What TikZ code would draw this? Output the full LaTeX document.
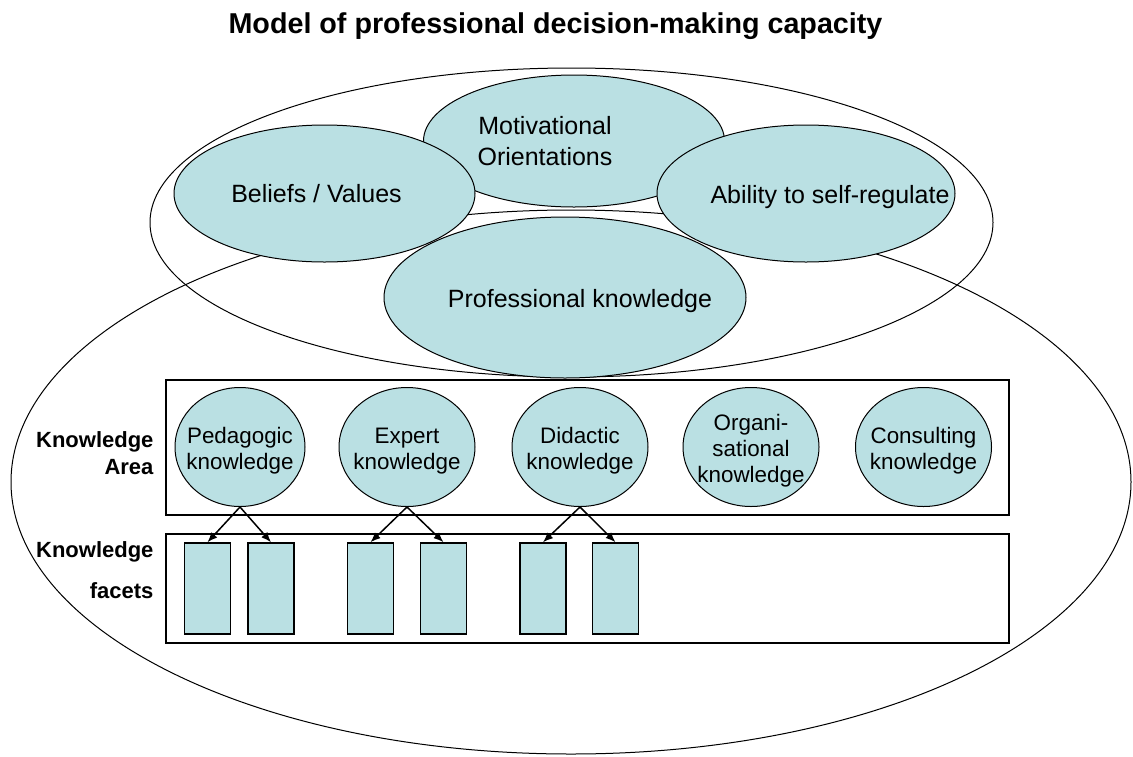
\documentclass[tikz,border=0pt]{standalone}
\usepackage{fontspec}
\setmainfont{Liberation Sans}
\usetikzlibrary{arrows.meta,shapes.geometric}
\definecolor{bubblefill}{RGB}{186,224,227}

\begin{document}
\begin{tikzpicture}[x=1pt, y=-1pt, >={Latex[length=10pt,width=8pt]},
  ring/.style={draw=black, line width=1pt, ellipse, inner sep=0pt},
  bubble/.style={ring, fill=bubblefill},
  frame/.style={draw=black, line width=1.5pt, rectangle, inner sep=0pt},
  facet/.style={frame, fill=bubblefill, minimum width=46pt, minimum height=91pt},
  bigtext/.style={font=\fontsize{25}{31}\selectfont, align=center},
  smalltext/.style={font=\fontsize{22.4}{26}\selectfont, align=center, yshift=-4pt},
  side/.style={font=\bfseries\fontsize{22}{27}\selectfont, align=right, anchor=east}]
\useasboundingbox (0,0) rectangle (1133,756);
\node[font=\bfseries\fontsize{28.7}{34}\selectfont, anchor=base] (title) at (555.5,33) {Model of professional decision-making capacity};
% the two large rings
\node[ring, minimum width=1120pt, minimum height=544pt] (lower) at (571,482) {};
\node[ring, minimum width=843pt, minimum height=309pt] (upper) at (571.5,222.5) {};
\node[bubble, minimum width=301pt, minimum height=132pt, label={[bigtext, xshift=-29pt]center:Motivational\\Orientations}] (motiv) at (574,141) {};
\node[bubble, minimum width=301pt, minimum height=137pt, label={[bigtext, xshift=-8pt]center:Beliefs / Values}] (beliefs) at (324.5,193.5) {};
\node[bubble, minimum width=298pt, minimum height=137pt, label={[bigtext, xshift=24pt, yshift=-4pt]center:Ability to self-regulate}] (ability) at (806,193.5) {};
\node[bubble, minimum width=362pt, minimum height=161pt, label={[bigtext, xshift=15pt, yshift=-4pt]center:Professional knowledge}] (prof) at (565,297.5) {};
% knowledge areas
\node[frame, minimum width=843pt, minimum height=135pt] (areabox) at (587.5,447.5) {};
\node[frame, minimum width=843pt, minimum height=109pt] (facetbox) at (587.5,588.5) {};
\node[side] (arealbl) at (157,453.5) {Knowledge\\Area};
\node[side] (facetlbl) at (157,570) {Knowledge\\[14pt]facets};
\node[bubble, minimum width=130pt, minimum height=119pt, label={[smalltext]center:Pedagogic\\knowledge}] (ped) at (240,447) {};
\node[bubble, minimum width=136pt, minimum height=119pt, label={[smalltext]center:Expert\\knowledge}] (expert) at (407,447) {};
\node[bubble, minimum width=136pt, minimum height=119pt, label={[smalltext]center:Didactic\\knowledge}] (didactic) at (580,447) {};
\node[bubble, minimum width=136pt, minimum height=119pt, label={[smalltext]center:Organi-\\sational\\knowledge}] (organ) at (751,447) {};
\node[bubble, minimum width=136pt, minimum height=119pt, label={[smalltext]center:Consulting\\knowledge}] (consult) at (923.5,447) {};
% facets
\node[facet] (f1) at (207.5,588.5) {};
\node[facet] (f2) at (271,588.5) {};
\node[facet] (f3) at (370.5,588.5) {};
\node[facet] (f4) at (443.5,588.5) {};
\node[facet] (f5) at (543,588.5) {};
\node[facet] (f6) at (615.5,588.5) {};
\draw [->, line width=1.5pt] (ped.south) -- (f1.north) ;
\draw [->, line width=1.5pt] (ped.south) -- (f2.north) ;
\draw [->, line width=1.5pt] (expert.south) -- (f3.north) ;
\draw [->, line width=1.5pt] (expert.south) -- (f4.north) ;
\draw [->, line width=1.5pt] (didactic.south) -- (f5.north) ;
\draw [->, line width=1.5pt] (didactic.south) -- (f6.north) ;
\end{tikzpicture}
\end{document}
